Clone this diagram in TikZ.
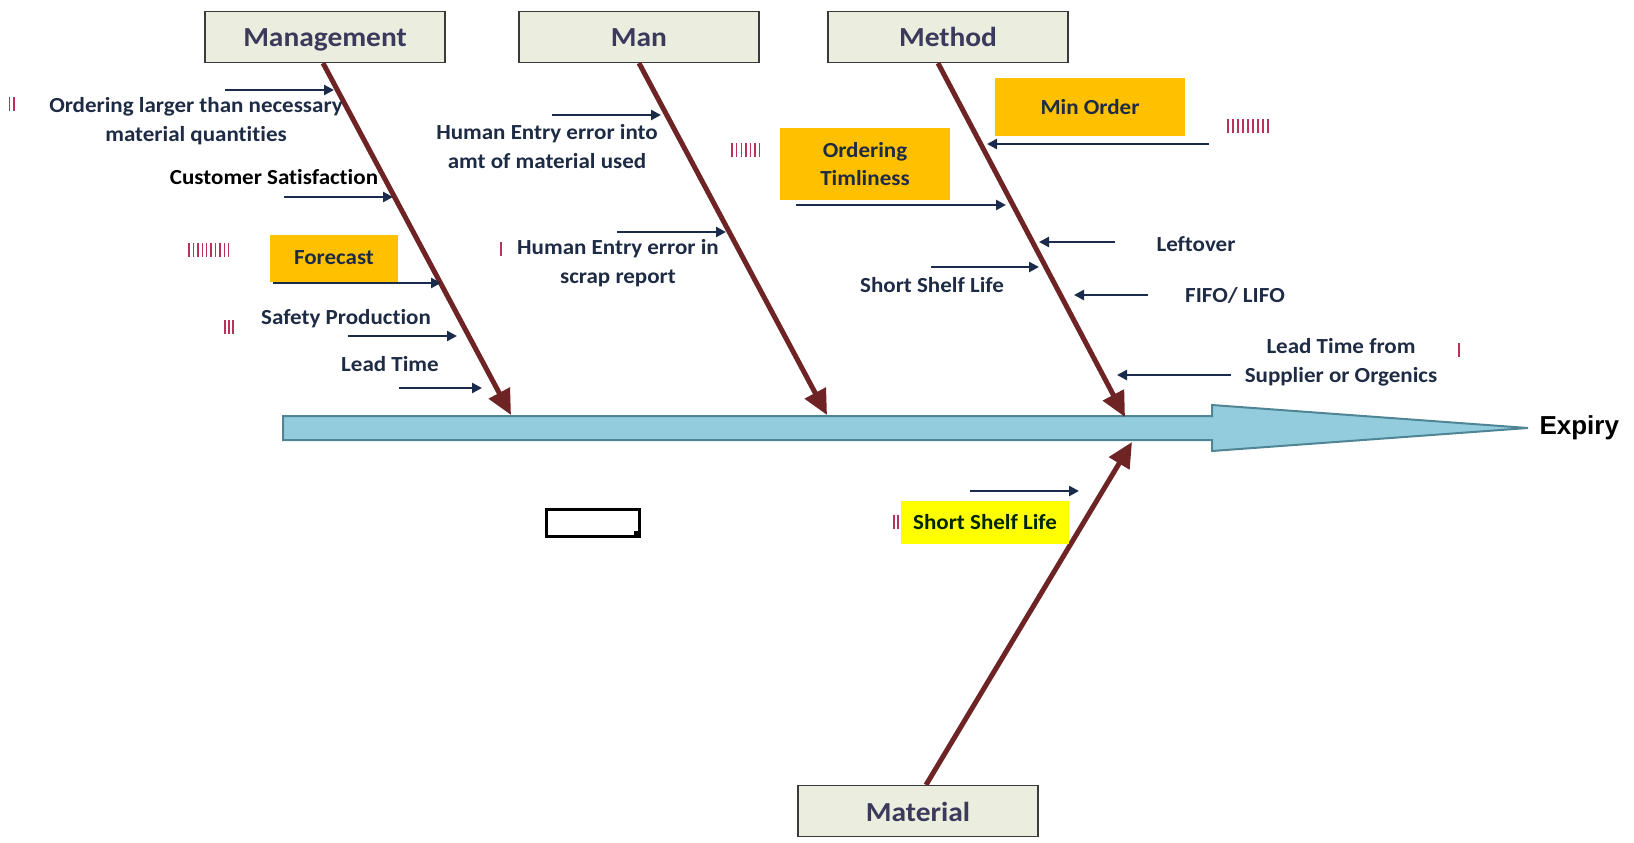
\documentclass[tikz,border=0pt]{standalone}
\usepackage{fontspec}
\setmainfont{Carlito}[FakeStretch=1.07,Ligatures=NoCommon]
\newfontfamily\arialf{Liberation Sans}
\usetikzlibrary{arrows.meta}
\definecolor{boxfill}{HTML}{EBEEDE}
\definecolor{boxline}{HTML}{3A3A3A}
\definecolor{titlecol}{HTML}{3C3A5C}
\definecolor{itemcol}{HTML}{1E2B45}
\definecolor{bonecol}{HTML}{6E2424}
\definecolor{navy}{HTML}{1B2B4B}
\definecolor{spinefill}{HTML}{93CDDD}
\definecolor{spineline}{HTML}{4F8594}
\definecolor{orangebox}{HTML}{FFC000}
\definecolor{yellowbox}{HTML}{FFFF00}
\definecolor{tallycol}{HTML}{B8325A}
\tikzset{
  cat/.style={draw=boxline, line width=1.2pt, fill=boxfill, minimum width=240pt, minimum height=51pt, inner sep=0pt, text height=24pt, text depth=4pt, font=\fontsize{27.5}{30}\selectfont\bfseries, text=titlecol},
  item/.style={font=\fontsize{21.5}{29}\selectfont\bfseries, text=itemcol, align=center, inner sep=0pt},
  hlbox/.style={fill=orangebox, inner sep=0pt, align=center, font=\fontsize{21.5}{28}\selectfont\bfseries, text=itemcol},
  bone/.style={draw=bonecol, line width=5pt, -{Triangle[length=25pt,width=23pt]}},
  sub/.style={draw=navy, line width=2.6pt, -{Triangle[length=10pt,width=10pt]}},
  tally/.style={draw=tallycol, line width=1.4pt},
}
\newcommand\tallymarks[4]{%
  \foreach \k in {1,...,#3} {\draw[tally] ({#1+(\k-1)*#4},{#2-7}) -- ++(0,14);}}
\begin{document}
\begin{tikzpicture}[x=1pt,y=-1pt]
\useasboundingbox (0,0) rectangle (1634,843);
% spine
\draw[spineline, line width=2pt, fill=spinefill]
  (283,416) -- (1212,416) -- (1212,405) -- (1528,428) -- (1212,451) -- (1212,440) -- (283,440) -- cycle;
\node[anchor=west, font=\arialf\bfseries\fontsize{26}{28}\selectfont] (expiry) at (1536,428) {Expiry};
% category boxes
\node[cat] (mgmt) at (325,37) {Management};
\node[cat] (man) at (639,37) {Man};
\node[cat] (method) at (948,37) {Method};
\node[cat] (material) at (918,811) {Material};
% bone ends
\coordinate (b1) at (511,415);
\coordinate (b2) at (827,415);
\coordinate (b3) at (1125,417);
\coordinate (b4) at (1132,442);
\draw[bone] ([xshift=-2pt]mgmt.south) -- (b1);
\draw[bone] (man.south) -- (b2);
\draw[bone] ([xshift=-10pt]method.south) -- (b3);
\draw[bone] ([xshift=8pt]material.north) -- (b4);
% Management causes
\node[item] (t1) at (196,121) {Ordering larger than necessary\\material quantities};
\node[item, text=black] (t2) at (274,177) {Customer Satisfaction};
\node[hlbox, minimum width=128pt, minimum height=47pt] (t3) at (334,258) {Forecast};
\node[item] (t4) at (346,319) {Safety Production};
\node[item] (t5) at (390,364) {Lead Time};
\coordinate (a1s) at (225,90);  \coordinate (a1e) at (334,90);
\coordinate (a2s) at (284,197); \coordinate (a2e) at (393,197);
\coordinate (a3s) at (273,283); \coordinate (a3e) at (441,283);
\coordinate (a4s) at (348,336); \coordinate (a4e) at (457,336);
\coordinate (a5s) at (399,388); \coordinate (a5e) at (482,388);
\draw[sub] (a1s) -- (a1e);
\draw[sub] (a2s) -- (a2e);
\draw[sub] (a3s) -- (a3e);
\draw[sub] (a4s) -- (a4e);
\draw[sub] (a5s) -- (a5e);
% Man causes
\node[item] (t6) at (547,147) {Human Entry error into\\amt of material used};
\node[item] (t7) at (618,263) {Human Entry error in\\scrap report};
\coordinate (a6s) at (552,115); \coordinate (a6e) at (661,115);
\coordinate (a7s) at (617,232); \coordinate (a7e) at (726,232);
\draw[sub] (a6s) -- (a6e);
\draw[sub] (a7s) -- (a7e);
% Method causes
\node[hlbox, minimum width=190pt, minimum height=57pt] (t8) at (1090,107) {Min Order};
\node[hlbox, minimum width=170pt, minimum height=72pt] (t9) at (865,164) {Ordering\\Timliness};
\node[item] (t10) at (1196,244) {Leftover};
\node[item] (t11) at (932,285) {Short Shelf Life};
\node[item] (t12) at (1235,295) {FIFO/ LIFO};
\node[item] (t13) at (1341,362) {Lead Time from\\Supplier or Orgenics};
\coordinate (a8s) at (1209,144);  \coordinate (a8e) at (987,144);
\coordinate (a9s) at (796,205);   \coordinate (a9e) at (1006,205);
\coordinate (a10s) at (1115,242); \coordinate (a10e) at (1039,242);
\coordinate (a11s) at (931,267);  \coordinate (a11e) at (1039,267);
\coordinate (a12s) at (1148,295); \coordinate (a12e) at (1074,295);
\coordinate (a13s) at (1231,375); \coordinate (a13e) at (1117,375);
\draw[sub] (a8s) -- (a8e);
\draw[sub] (a9s) -- (a9e);
\draw[sub] (a10s) -- (a10e);
\draw[sub] (a11s) -- (a11e);
\draw[sub] (a12s) -- (a12e);
\draw[sub] (a13s) -- (a13e);
% Material cause
\node[hlbox, fill=yellowbox, text=black!85!green, minimum width=168pt, minimum height=43pt] (t14) at (985,522) {Short Shelf Life};
\coordinate (a14s) at (970,491); \coordinate (a14e) at (1079,491);
\draw[sub] (a14s) -- (a14e);
% empty box
\draw[black, line width=3pt] (546,509) rectangle (639,536);
\fill[black] (634,531) rectangle (641,538);
% tally marks
\tallymarks{9.5}{104}{2}{4.5}
\tallymarks{189}{250}{10}{4.4}
\tallymarks{225}{327}{3}{4}
\tallymarks{501}{249}{1}{4}
\tallymarks{732}{150}{7}{4.6}
\tallymarks{1228}{126}{9}{5}
\tallymarks{1459}{350}{1}{4}
\tallymarks{894}{522}{2}{4}
\end{tikzpicture}
\end{document}
